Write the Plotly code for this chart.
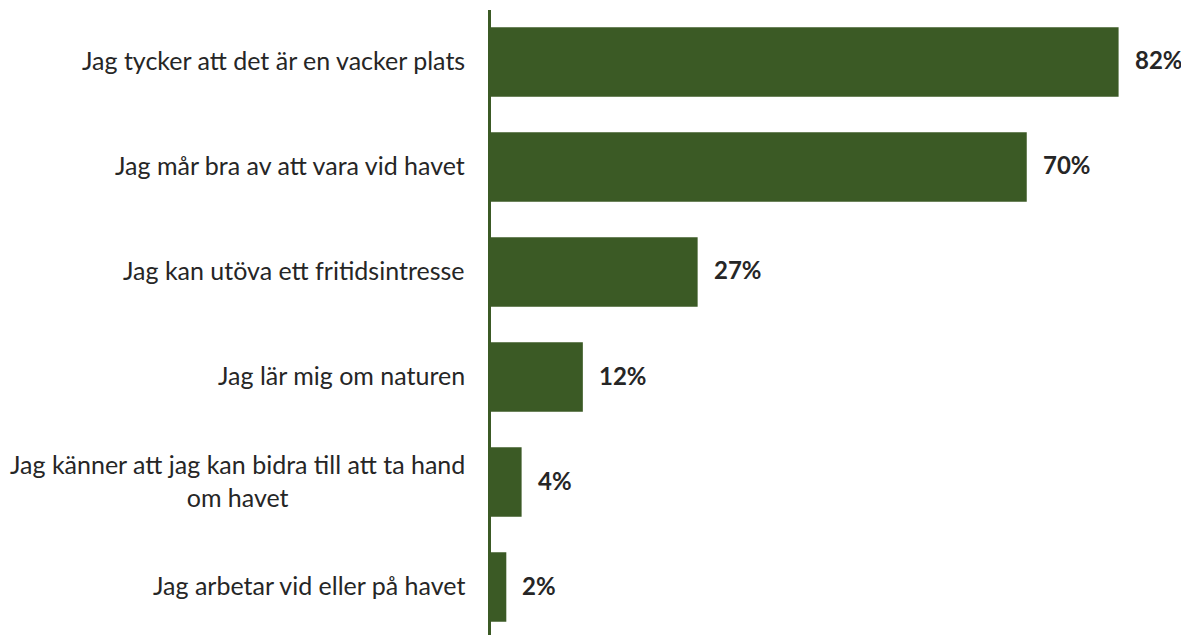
import plotly.graph_objects as go

labels = [
    "Jag tycker att det är en vacker plats",
    "Jag mår bra av att vara vid havet",
    "Jag kan utöva ett fritidsintresse",
    "Jag lär mig om naturen",
    "Jag känner att jag kan bidra till att ta hand<br>om havet",
    "Jag arbetar vid eller på havet",
]
values = [82, 70, 27, 12, 4, 2]
value_text = [f"{v}%" for v in values]

green = "#3B5A25"
font_family = "Lato, 'Open Sans', sans-serif"

fig = go.Figure()
fig.add_trace(go.Bar(
    y=labels,
    x=values,
    orientation="h",
    marker=dict(color=green, line=dict(width=0)),
    width=0.66,
    hoverinfo="skip",
))

# category labels on the left (centred lines like the original)
for lab in labels:
    fig.add_annotation(
        x=0, y=lab, xref="paper", yref="y",
        text=lab, showarrow=False,
        xanchor="right", align="center", xshift=-24, yshift=2,
        font=dict(family=font_family, size=25, color="#262626"),
    )

# value labels
for lab, v, t in zip(labels, values, value_text):
    fig.add_annotation(
        x=v, y=lab, xref="x", yref="y",
        text=f"<b>{t}</b>", showarrow=False,
        xanchor="left", xshift=14, yshift=2,
        font=dict(family=font_family, size=24, color="#262626"),
    )

# page body adds an 8px margin, so shift margins to compensate
fig.update_layout(
    width=1189, height=635,
    margin=dict(l=483, r=8, t=2, b=8),
    plot_bgcolor="white", paper_bgcolor="white",
    showlegend=False,
    bargap=0.34,
)
fig.update_xaxes(range=[0, 91.2], visible=False, fixedrange=True)
fig.update_yaxes(
    categoryorder="array", categoryarray=labels,
    range=[5.457, -0.495],
    showticklabels=False, ticks="",
    showgrid=False, zeroline=False,
    showline=True, linecolor=green, linewidth=3,
    fixedrange=True,
)

fig.write_html("out.html")
